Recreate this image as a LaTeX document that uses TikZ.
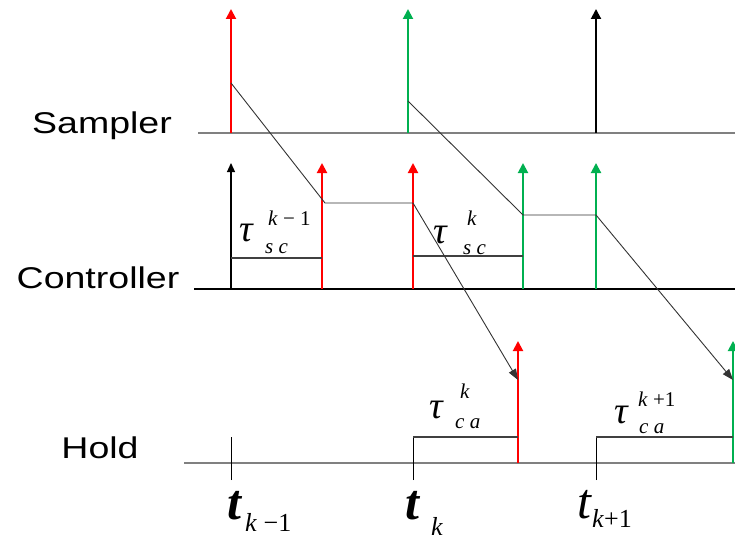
\documentclass[tikz,border=0pt]{standalone}
\usepackage{fontspec}
\setmainfont{Liberation Serif}
\setsansfont{Liberation Sans}
\usetikzlibrary{arrows.meta}
\definecolor{tred}{HTML}{FF0000}
\definecolor{tgreen}{HTML}{00B050}
\definecolor{taxis}{HTML}{808080}

\begin{document}
\begin{tikzpicture}[x=1pt, y=-1pt,
  impulse/.style={line width=2pt, -{Triangle[width=10pt,length=10pt]}},
  thinimp/.style={line width=1.2pt, -{Triangle[width=8pt,length=9pt]}},
  axisline/.style={line width=2pt, taxis},
  delay/.style={line width=1.3pt, black!75},
  msg/.style={line width=0.9pt, black!80},
  msgarrow/.style={msg, -{Triangle[width=8pt,length=11pt]}},
  rowlab/.style={font=\sffamily\fontsize{30}{30}\selectfont, anchor=base, inner sep=0pt},
  taulab/.style={font=\fontsize{38}{38}\selectfont\itshape, inner sep=0pt},
  idx/.style={font=\fontsize{21}{21}\selectfont, anchor=base west, inner sep=0pt},
  tbig/.style={font=\fontsize{50}{50}\selectfont, anchor=base, inner sep=0pt},
  tsub/.style={font=\fontsize{26}{26}\selectfont, anchor=base west, inner sep=0pt}]
\useasboundingbox (0,0) rectangle (735,540);
% ---- row labels ----
\node[rowlab] (lsamp) at (102,134) {\scalebox{1.25}[1]{Sampler}};
\node[rowlab] (lctrl) at (98,288) {\scalebox{1.25}[1]{Controller}};
\node[rowlab] (lhold) at (100,458) {\scalebox{1.25}[1]{Hold}};
% ---- time lines ----
\coordinate (sa) at (198,133); \coordinate (sb) at (735,133);
\coordinate (ca) at (194,289); \coordinate (cb) at (735,289);
\coordinate (ha) at (184,463); \coordinate (hb) at (735,463);
\draw[axisline] (sa) -- (sb);
\draw[line width=1.2pt] (ca) -- (cb);
\draw[axisline] (ha) -- (hb);
% ---- sampler impulses ----
\foreach \x/\c/\n in {231/tred/1,408/tgreen/2,596/black/3}{
  \coordinate (s\n) at (\x,133);
  \draw[impulse, \c] (s\n) -- ++(0,-124);}
% ---- controller impulses ----
\coordinate (c1) at (231,289);
\draw[thinimp] (c1) -- ++(0,-126);
\foreach \x/\c/\n in {322/tred/2,413/tred/3,523/tgreen/4,596/tgreen/5}{
  \coordinate (c\n) at (\x,289);
  \draw[impulse, \c] (c\n) -- ++(0,-126);}
% ---- hold impulses ----
\foreach \x/\c/\n in {518/tred/1,733/tgreen/2}{
  \coordinate (h\n) at (\x,463);
  \draw[impulse, \c] (h\n) -- ++(0,-122);}
% ---- ticks and hold steps ----
\foreach \x/\n in {231/1,413/2,596/3}{
  \coordinate (k\n) at (\x,480);
  \draw[line width=1pt] (k\n) -- ++(0,-43);}
\coordinate (hs1) at (518,437); \coordinate (hs2) at (733,437);
\draw[delay] (k2) ++(0,-43) -- (hs1);
\draw[delay] (k3) ++(0,-43) -- (hs2);
% ---- controller delays ----
\coordinate (d1a) at (231,258); \coordinate (d1b) at (322,258);
\coordinate (d2a) at (413,256); \coordinate (d2b) at (523,256);
\draw[delay] (d1a) -- (d1b);
\draw[delay] (d2a) -- (d2b);
% ---- message paths ----
\coordinate (m1) at (231,83); \coordinate (m2) at (325,203);
\coordinate (m3) at (413,203); \coordinate (m4) at (518,380);
\draw[msg] (m1) -- (m2) -- (m3);
\draw[msgarrow] (m3) -- (m4);
\coordinate (n1) at (408,101); \coordinate (n2) at (523,215);
\coordinate (n3) at (596,215); \coordinate (n4) at (733,380);
\draw[msg] (n1) -- (n2) -- (n3);
\draw[msgarrow] (n3) -- (n4);
% ---- delay labels ----
\node[taulab] (tsc1) at (246,233) {τ};
\node[idx] at (268,225) {\textit{k} − 1};
\node[idx] at (265,253) {\textit{s c}};
\node[taulab] (tsc2) at (440,235) {τ};
\node[idx] at (467,225) {\textit{k}};
\node[idx] at (463,254) {\textit{s c}};
\node[taulab] (tca1) at (436,410) {τ};
\node[idx] at (460,398) {\textit{k}};
\node[idx] at (455,428) {\textit{c a}};
\node[taulab] (tca2) at (621,415) {τ};
\node[idx] at (638,406) {\textit{k} +1};
\node[idx] at (639,433) {\textit{c a}};
% ---- sampling instants ----
\node[tbig] (tk1) at (235,519) {\textbf{\textit{t}}};
\node[tsub] at (245,531) {\textit{k} −1};
\node[tbig] (tk2) at (413,519) {\textbf{\textit{t}}};
\node[tsub] at (431,535) {\textit{k}};
\node[tbig] (tk3) at (585,518) {\textit{t}};
\node[tsub] at (592,527) {\textit{k}+1};
\end{tikzpicture}
\end{document}
